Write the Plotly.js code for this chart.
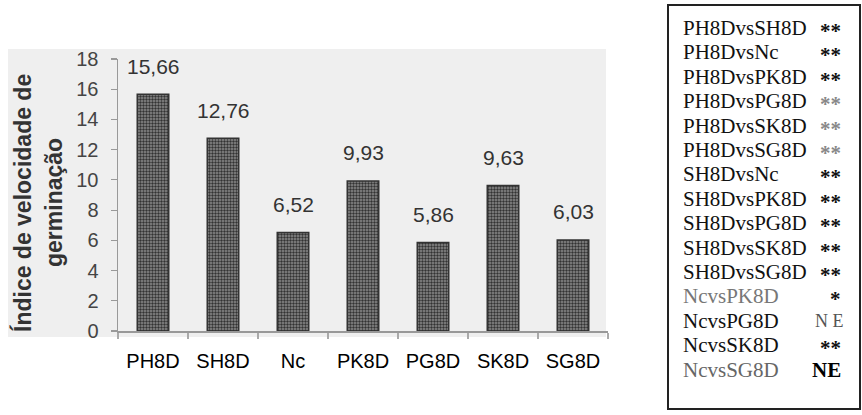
<!DOCTYPE html>
<html>
<head>
<meta charset="utf-8">
<script src="https://cdn.plot.ly/plotly-3.0.1.min.js"></script>
<style>
html,body{margin:0;padding:0;background:#fff;}
#chart{width:862px;height:415px;}
</style>
</head>
<body>
<div id="chart"></div>
<script>
// ---- data ----
const categories = ["PH8D", "SH8D", "Nc", "PK8D", "PG8D", "SK8D", "SG8D"];
const values = [15.66, 12.76, 6.52, 9.93, 5.86, 9.63, 6.03];
const valueLabels = ["15,66", "12,76", "6,52", "9,93", "5,86", "9,63", "6,03"];
const yTicks = [0, 2, 4, 6, 8, 10, 12, 14, 16, 18];
const yTitleLines = ["Índice de velocidade de", "germinação"];
const comparisons = ["PH8DvsSH8D", "PH8DvsNc", "PH8DvsPK8D", "PH8DvsPG8D", "PH8DvsSK8D",
  "PH8DvsSG8D", "SH8DvsNc", "SH8DvsPK8D", "SH8DvsPG8D", "SH8DvsSK8D", "SH8DvsSG8D",
  "NcvsPK8D", "NcvsPG8D", "NcvsSK8D", "NcvsSG8D"];
const significance = ["**", "**", "**", "**", "**", "**", "**", "**", "**", "**", "**",
  "*", "N E", "**", "NE"];

// ---- geometry (pixels) ----
const W = 862, H = 415;
const L = 118, R = 608, T = 59, B = 331;
const px = x => (x - L) / (R - L);
const py = y => (B - y) / (B - T);

const compColor = ["#111", "#111", "#111", "#111", "#111", "#111", "#111", "#111", "#111", "#111", "#111",
  "#777", "#111", "#111", "#666"];
const sigColor = ["#111", "#111", "#111", "#888", "#888", "#888", "#111", "#111", "#111", "#111", "#111",
  "#111", "#555", "#111", "#000"];

const annotations = [];
categories.forEach((c, i) => {
  annotations.push({
    x: c, y: values[i], xref: 'x', yref: 'y', text: valueLabels[i],
    showarrow: false, yanchor: 'middle', yshift: 28,
    font: {family: 'Arial, Liberation Sans, sans-serif', size: 21, color: '#333'}
  });
});
// y-axis title as two rotated lines
const titleX = [22, 54];
yTitleLines.forEach((t, i) => {
  annotations.push({
    x: px(titleX[i]), y: py(203), xref: 'paper', yref: 'paper', text: '<b>' + t + '</b>',
    textangle: -90, showarrow: false, xanchor: 'center', yanchor: 'middle',
    font: {family: 'Arial, Liberation Sans, sans-serif', size: 23, color: '#333'}
  });
});
// significance box
comparisons.forEach((t, i) => {
  const yc = 28 + i * 24.4;
  annotations.push({
    x: px(681), y: py(yc), xref: 'paper', yref: 'paper', text: t,
    showarrow: false, xanchor: 'left', yanchor: 'middle',
    font: {family: 'Liberation Serif, Times New Roman, serif', size: 21, color: compColor[i]}
  });
  const s = significance[i];
  annotations.push({
    x: px(s === 'N E' ? 846 : 843), y: py(yc + (s.indexOf('*') >= 0 ? 3 : 0)), xref: 'paper', yref: 'paper',
    text: s === 'NE' ? '<b>NE</b>' : (s.indexOf('*') >= 0 ? '<b>' + s + '</b>' : s),
    showarrow: false, xanchor: 'right', yanchor: 'middle',
    font: {family: 'Liberation Serif, Times New Roman, serif', size: s === 'N E' ? 18 : 21, color: sigColor[i]}
  });
});

const shapes = [
  {type: 'rect', xref: 'paper', yref: 'paper', x0: px(8), x1: px(606), y0: py(337), y1: py(49),
   fillcolor: '#efefef', line: {width: 0}, layer: 'below'},
  {type: 'rect', xref: 'paper', yref: 'paper', x0: px(668), x1: px(860), y0: py(409), y1: py(5),
   fillcolor: 'rgba(0,0,0,0)', line: {color: '#222', width: 2}, layer: 'above'}
];

const trace = {
  type: 'bar', x: categories, y: values, width: 0.45,
  marker: {
    color: '#808080',
    line: {color: '#333', width: 1.5},
    pattern: {shape: '.', fgcolor: '#333', bgcolor: '#8c8c8c', size: 3, solidity: 0.5}
  },
  hoverinfo: 'skip'
};

const layout = {
  width: W, height: H,
  margin: {l: L, r: W - R, t: T, b: H - B, pad: 0},
  paper_bgcolor: '#ffffff', plot_bgcolor: 'rgba(0,0,0,0)',
  showlegend: false,
  xaxis: {
    type: 'category', showgrid: false, zeroline: false,
    showline: true, linecolor: '#999', linewidth: 1.5,
    ticks: 'outside', tickson: 'boundaries', ticklen: 6, tickcolor: '#aaa', tickwidth: 1.2,
    ticklabelstandoff: 11,
    tickfont: {family: 'Arial, Liberation Sans, sans-serif', size: 20, color: '#000'}
  },
  yaxis: {
    range: [0, 18], tickvals: yTicks, showgrid: false, zeroline: false,
    showline: true, linecolor: '#999', linewidth: 1.5,
    ticks: 'outside', ticklen: 6, tickcolor: '#999', tickwidth: 1.2,
    ticklabelstandoff: 8,
    tickfont: {family: 'Arial, Liberation Sans, sans-serif', size: 20, color: '#444'}
  },
  annotations: annotations,
  shapes: shapes
};

Plotly.newPlot('chart', [trace], layout, {displayModeBar: false, staticPlot: true});
</script>
</body>
</html>
